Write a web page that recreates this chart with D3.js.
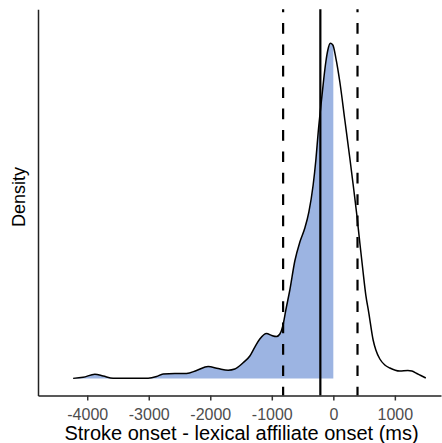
<!DOCTYPE html>
<html><head><meta charset="utf-8">
<script src="https://cdn.jsdelivr.net/npm/d3@7"></script>
<style>body{margin:0;background:#fff}svg{display:block}</style>
</head><body><svg id="c" width="442" height="443"></svg>
<script>
// Kernel density estimate of stroke onset relative to lexical affiliate onset (ms)
const onsetMs = [-4229,-4066,-3876,-3741,-3579,-3307,-3010,-2873,-2766,-2576,-2386,-2223,-2035,-1872,-1710,-1601,
  -1471,-1357,-1276,-1195,-1086,-1000,-923,-869,-821,-772,-707,-626,-544,-463,-398,-328,-284,-247,-192,-154,-122,-89,-49,-8,
  41,106,187,268,333,382,431,480,528,577,647,691,756,837,918,1081,1211,1276,1357,1422,1503];
const densityVal = [0.0000005,0.0000045,0.0000157,0.0000093,0.0000011,0.0000007,0.0000011,0.0000075,0.0000168,0.0000187,0.0000187,0.0000298,0.0000448,0.0000373,0.0000310,0.0000354,
  0.0000578,0.0000839,0.0001175,0.0001474,0.0001679,0.0001604,0.0001567,0.0001660,0.0001959,0.0002556,0.0003302,0.0004384,0.0005093,0.0005615,0.0006212,0.0007220,0.0008152,0.0009160,0.0010391,0.0011212,0.0011809,0.0012256,0.0012506,0.0012443,
  0.0011958,0.0011063,0.0009645,0.0008227,0.0007033,0.0006100,0.0005056,0.0004048,0.0003115,0.0002444,0.0001436,0.0001063,0.0000728,0.0000504,0.0000392,0.0000280,0.0000298,0.0000280,0.0000187,0.0000112,0.0000019];
const xTicks = [-4000,-3000,-2000,-1000,0,1000];
const xTickLabels = ["-4000","-3000","-2000","-1000","0","1000"];
const meanLine = [-211];
const sdLines = [-816, 393];
const shadeUpTo = 0;

const svg = d3.select("#c");
const x = d3.scaleLinear().domain([-4800, 1750]).range([38, 441]);
const y = d3.scaleLinear().domain([-0.0000634, 0.0013776]).range([395.5, 9.3]);

const pts = onsetMs.map((v,i)=>({v, d: densityVal[i]}));

// shaded region (x <= 0)
const i1 = pts.findIndex(p => p.v > shadeUpTo);
const a = pts[i1-1], b = pts[i1];
const dAt = a.d + (b.d - a.d) * (shadeUpTo - a.v) / (b.v - a.v);
const shade = pts.filter(p => p.v <= shadeUpTo).concat([{v: shadeUpTo, d: dAt}]);

svg.append("path").datum(shade)
  .attr("fill", "#9cb4e2")
  .attr("d", d3.area().x(p=>x(p.v)).y0(y(0)).y1(p=>y(p.d)).curve(d3.curveMonotoneX));

svg.append("path").datum(pts)
  .attr("fill", "none").attr("stroke", "#000").attr("stroke-width", 1.5)
  .attr("d", d3.line().x(p=>x(p.v)).y(p=>y(p.d)).curve(d3.curveMonotoneX));

const [yb, yt] = y.range();
svg.selectAll("line.sd").data(sdLines).join("line").attr("class","sd")
  .attr("x1", d=>x(d)).attr("x2", d=>x(d)).attr("y1", yb).attr("y2", yt)
  .attr("stroke", "#000").attr("stroke-width", 2.2)
  .attr("stroke-dasharray", "10.7 10.7").attr("stroke-dashoffset", 2);
svg.selectAll("line.mean").data(meanLine).join("line").attr("class","mean")
  .attr("x1", d=>x(d)).attr("x2", d=>x(d)).attr("y1", yb).attr("y2", yt)
  .attr("stroke", "#000").attr("stroke-width", 2.2);

// axes
const xAxis = svg.append("g").attr("transform", `translate(0,${yb})`)
  .call(d3.axisBottom(x).tickValues(xTicks).tickSize(5).tickSizeOuter(0)
    .tickFormat((d,i) => xTickLabels[i]));
xAxis.select(".domain").attr("stroke", "#222").attr("stroke-width", 1.5);
xAxis.selectAll(".tick line").attr("stroke", "#333").attr("stroke-width", 1.5);
xAxis.selectAll(".tick text").attr("fill", "#4d4d4d")
  .style("font-family", "'Liberation Sans', Arial, sans-serif").style("font-size", "16px").attr("dy", null).attr("y", 24);

const yAxis = svg.append("g").attr("transform", `translate(${x.range()[0]},0)`)
  .call(d3.axisLeft(y).tickValues([]).tickSizeOuter(0));
yAxis.select(".domain").attr("stroke", "#222").attr("stroke-width", 1.5);

svg.append("text").attr("x", 241.5).attr("y", 440).attr("text-anchor", "middle")
  .style("font-family", "'Liberation Sans', Arial, sans-serif").style("font-size", "20px").attr("fill", "#000")
  .text("Stroke onset - lexical affiliate onset (ms)");
svg.append("text").attr("transform", "translate(25,197) rotate(-90)").attr("text-anchor", "middle")
  .style("font-family", "'Liberation Sans', Arial, sans-serif").style("font-size", "18px").attr("fill", "#000")
  .text("Density");
</script></body></html>
